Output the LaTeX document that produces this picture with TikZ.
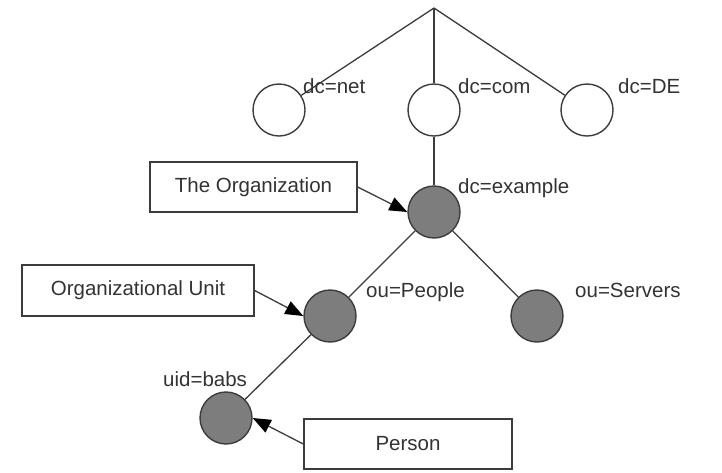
\documentclass[tikz,border=0pt]{standalone}
\usepackage{fontspec}
\setmainfont{Liberation Sans}
\usetikzlibrary{arrows.meta}
\definecolor{linec}{RGB}{60,60,60}
\definecolor{fillc}{RGB}{125,125,125}
\begin{document}
\begin{tikzpicture}[x=1pt,y=-1pt,
  every node/.style={font=\fontsize{20.5}{24}\selectfont, text=black!80},
  emptyc/.style={circle, draw=linec, line width=1.4pt, fill=white, minimum size=52pt, inner sep=0pt},
  fullc/.style={circle, draw=linec, line width=1.4pt, fill=fillc, minimum size=52pt, inner sep=0pt},
  infobox/.style={rectangle, draw=linec, line width=1.4pt, fill=white, inner sep=0pt},
  lbl/.style={anchor=base west, inner sep=0pt},
  edge/.style={draw=linec, line width=1.3pt},
  pointer/.style={draw=linec, line width=1.3pt, -{Triangle[length=18pt,width=14pt,color=black]}}
]
\useasboundingbox (0,0) rectangle (722,472);
\coordinate (root) at (434,8);
\node[emptyc] (net) at (279,110) {};
\node[emptyc] (com) at (434,110) {};
\node[emptyc] (de) at (587,110) {};
\node[fullc] (ex) at (434,212) {};
\node[fullc] (pe) at (330,316) {};
\node[fullc] (se) at (537,316) {};
\node[fullc] (ba) at (226,418) {};
\draw[edge] (root) -- (net);
\draw[edge] (root) -- (com);
\draw[edge] (root) -- (de);
\draw[edge] (com) -- (ex);
\draw[edge] (ex) -- (pe);
\draw[edge] (ex) -- (se);
\draw[edge] (pe) -- (ba);
\node[lbl] (lnet) at (303,93) {dc=net};
\node[lbl] (lcom) at (458,93) {dc=com};
\node[lbl] (lde) at (618,93) {dc=DE};
\node[lbl] (lex) at (458,193) {dc=example};
\node[lbl] (lpe) at (366,297) {ou=People};
\node[lbl] (lse) at (575,297) {ou=Servers};
\node[lbl] (lba) at (163,386) {uid=babs};
\node[infobox, minimum width=207pt, minimum height=50pt] (org) at (253.5,187) {The Organization};
\node[infobox, minimum width=232pt, minimum height=51pt] (ou) at (138,290.5) {Organizational Unit};
\node[infobox, minimum width=208pt, minimum height=50pt] (per) at (408,444) {Person};
\draw[pointer] (org.east) -- (ex.west);
\draw[pointer] (ou.east) -- (pe.west);
\draw[pointer] (per.west) -- (ba.east);
\end{tikzpicture}
\end{document}
